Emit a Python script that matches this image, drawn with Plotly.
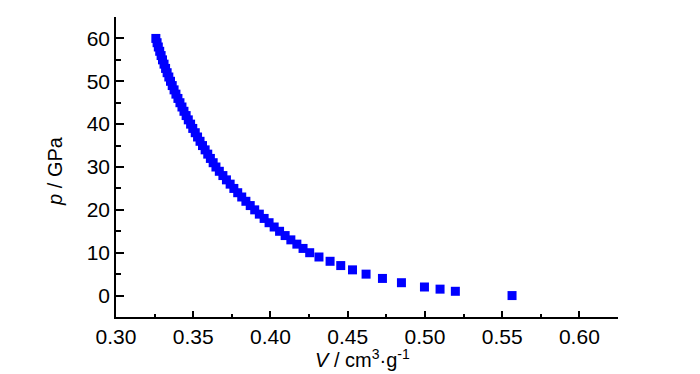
import plotly.graph_objects as go

# Pressure (GPa) and specific volume (cm^3/g)
p_values = [0, 1, 1.5, 2, 3, 4, 5, 6, 7, 8, 9, 10,
            11, 12, 13, 14, 15, 16, 17, 18, 19, 20,
            21, 22, 23, 24, 25, 26, 27, 28, 29, 30,
            31, 32, 33, 34, 35, 36, 37, 38, 39, 40,
            41, 42, 43, 44, 45, 46, 47, 48, 49, 50,
            51, 52, 53, 54, 55, 56, 57, 58, 59, 60]
v_values = [0.5564, 0.5197, 0.5098, 0.4997, 0.4848, 0.4725, 0.4619, 0.4531, 0.4455, 0.4386, 0.4314, 0.4254,
            0.4211, 0.4171, 0.4132, 0.4095, 0.4059, 0.4024, 0.3991, 0.3959, 0.3928, 0.3898,
            0.3869, 0.3841, 0.3814, 0.3788, 0.3763, 0.3739, 0.3715, 0.3692, 0.3669, 0.3647,
            0.3629, 0.3611, 0.3594, 0.3577, 0.3560, 0.3544, 0.3528, 0.3513, 0.3497, 0.3483,
            0.3468, 0.3454, 0.3440, 0.3427, 0.3414, 0.3401, 0.3388, 0.3376, 0.3364, 0.3353,
            0.3342, 0.3331, 0.3321, 0.3311, 0.3301, 0.3292, 0.3283, 0.3274, 0.3266, 0.3258]

x_tick_vals = [0.30, 0.35, 0.40, 0.45, 0.50, 0.55, 0.60]
x_tick_text = ["0.30", "0.35", "0.40", "0.45", "0.50", "0.55", "0.60"]
y_tick_vals = [0, 10, 20, 30, 40, 50, 60]
y_tick_text = ["0", "10", "20", "30", "40", "50", "60"]

x_title = "<i>V</i> / cm<sup>3</sup>·g<sup>-1</sup>"
y_title = "<i>p</i> / GPa"

font_family = "Liberation Sans, Arial, sans-serif"

fig = go.Figure()
fig.add_trace(go.Scatter(
    x=v_values, y=p_values, mode="markers",
    marker=dict(symbol="square", size=9, color="#0000FF", line=dict(width=0)),
    showlegend=False,
))

fig.update_layout(
    width=700, height=374,
    margin=dict(l=108, r=90, t=9, b=65),
    paper_bgcolor="white", plot_bgcolor="white",
    font=dict(family=font_family, size=21, color="black"),
    xaxis=dict(
        range=[0.30, 0.625], automargin=False,
        tickmode="array", tickvals=x_tick_vals, ticktext=x_tick_text,
        ticks="inside", ticklen=6, tickwidth=1.5, tickcolor="black",
        minor=dict(ticks="inside", ticklen=3, tickwidth=1.5, tickcolor="black",
                   tickmode="linear", tick0=0.30, dtick=0.025),
        showline=True, linecolor="black", linewidth=1.5,
        showgrid=False, zeroline=False,
        tickfont=dict(size=21),
    ),
    yaxis=dict(
        range=[-5, 65], automargin=False,
        tickmode="array", tickvals=y_tick_vals, ticktext=y_tick_text,
        ticks="inside", ticklen=8, tickwidth=1.5, tickcolor="black",
        minor=dict(ticks="inside", ticklen=5, tickwidth=1.5, tickcolor="black",
                   tickmode="linear", tick0=-5, dtick=5),
        showline=True, linecolor="black", linewidth=1.5,
        showgrid=False, zeroline=False,
        tickfont=dict(size=21),
    ),
    annotations=[
        dict(text=x_title, xref="paper", yref="paper", x=0.492, y=-0.138,
             xanchor="center", yanchor="middle", showarrow=False,
             font=dict(size=20)),
        dict(text=y_title, xref="paper", yref="paper", x=-0.1215, y=0.487,
             xanchor="center", yanchor="middle", showarrow=False, textangle=-90,
             font=dict(size=20)),
    ],
)

fig.write_html("out.html")
